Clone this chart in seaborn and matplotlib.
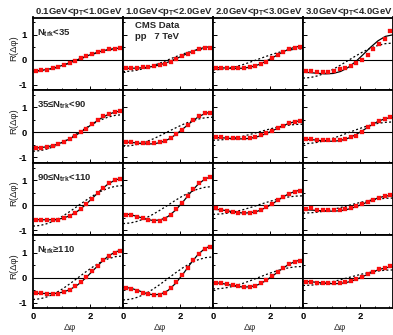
import numpy as np
import pandas as pd
import matplotlib
matplotlib.use("Agg")
import matplotlib.pyplot as plt
import seaborn as sns
from matplotlib.ticker import FixedLocator, MultipleLocator

# ---------------- data ----------------
pt_titles = ["0.1GeV<p$_\\mathrm{T}$<1.0GeV", "1.0GeV<p$_\\mathrm{T}$<2.0GeV",
             "2.0GeV<p$_\\mathrm{T}$<3.0GeV", "3.0GeV<p$_\\mathrm{T}$<4.0GeV"]
ntrk_labels = ["N$_\\mathrm{trk}$<35", "35\u2264N$_\\mathrm{trk}$<90",
               "90\u2264N$_\\mathrm{trk}$<110", "N$_\\mathrm{trk}$\u2265110"]

phi_pts = [0.098, 0.295, 0.491, 0.687, 0.884, 1.080, 1.276, 1.473,
           1.669, 1.865, 2.062, 2.258, 2.454, 2.651, 2.847, 3.043]
phi_curve = [0.0, 0.262, 0.524, 0.785, 1.047, 1.309, 1.571, 1.833,
             2.094, 2.356, 2.618, 2.880, 3.142]

# row 1 : Ntrk < 35
pts_11 = [-0.44, -0.42, -0.39, -0.34, -0.27, -0.2, -0.12, -0.03, 0.06, 0.15, 0.23, 0.3, 0.37, 0.42, 0.45, 0.47]
solid_11 = [-0.44, -0.425, -0.379, -0.307, -0.213, -0.103, 0.015, 0.133, 0.243, 0.337, 0.409, 0.455, 0.47]
dash_11 = [-0.45, -0.435, -0.39, -0.318, -0.225, -0.117, 0.0, 0.117, 0.225, 0.318, 0.39, 0.435, 0.45]
pts_12 = [-0.31, -0.31, -0.31, -0.30, -0.29, -0.26, -0.22, -0.15, -0.07, 0.03, 0.14, 0.24, 0.33, 0.42, 0.48, 0.49]
solid_12 = [-0.34, -0.338, -0.329, -0.306, -0.264, -0.193, -0.093, 0.032, 0.172, 0.309, 0.425, 0.502, 0.53]
dash_12 = [-0.47, -0.454, -0.407, -0.332, -0.235, -0.122, 0.0, 0.122, 0.235, 0.332, 0.407, 0.454, 0.47]
pts_13 = [-0.31, -0.32, -0.33, -0.33, -0.33, -0.32, -0.30, -0.25, -0.17, -0.07, 0.06, 0.18, 0.31, 0.42, 0.48, 0.53]
solid_13 = [-0.31, -0.316, -0.332, -0.344, -0.335, -0.29, -0.2, -0.068, 0.095, 0.264, 0.412, 0.514, 0.55]
dash_13 = [-0.40, -0.386, -0.344, -0.277, -0.19, -0.089, 0.02, 0.129, 0.23, 0.317, 0.384, 0.426, 0.44]
pts_14 = [-0.43, -0.46, -0.49, -0.49, -0.47, -0.43, -0.38, -0.31, -0.24, -0.14, 0.0, 0.2, 0.45, 0.62, 0.83, 1.17]
solid_14 = [-0.5, -0.512, -0.54, -0.56, -0.545, -0.467, -0.31, -0.078, 0.205, 0.5, 0.76, 0.937, 1.0]
dash_14 = [-0.73, -0.706, -0.636, -0.525, -0.38, -0.211, -0.03, 0.151, 0.32, 0.465, 0.576, 0.646, 0.67]

# row 2 : 35 <= Ntrk < 90
pts_21 = [-0.61, -0.61, -0.58, -0.53, -0.46, -0.38, -0.27, -0.13, 0.0, 0.15, 0.33, 0.49, 0.64, 0.74, 0.82, 0.85]
solid_21 = [-0.62, -0.607, -0.566, -0.493, -0.385, -0.24, -0.06, 0.144, 0.355, 0.553, 0.716, 0.823, 0.86]
dash_21 = [-0.75, -0.725, -0.652, -0.536, -0.385, -0.209, -0.02, 0.169, 0.345, 0.496, 0.612, 0.685, 0.71]
pts_22 = [-0.39, -0.40, -0.41, -0.43, -0.43, -0.43, -0.40, -0.33, -0.22, -0.08, 0.1, 0.3, 0.48, 0.64, 0.76, 0.79]
solid_22 = [-0.38, -0.393, -0.425, -0.455, -0.457, -0.404, -0.282, -0.093, 0.144, 0.393, 0.614, 0.766, 0.82]
dash_22 = [-0.55, -0.53, -0.472, -0.38, -0.26, -0.12, 0.03, 0.18, 0.32, 0.44, 0.532, 0.59, 0.61]
pts_23 = [-0.19, -0.2, -0.22, -0.23, -0.23, -0.23, -0.21, -0.18, -0.12, -0.04, 0.06, 0.17, 0.27, 0.36, 0.43, 0.45]
solid_23 = [-0.2, -0.209, -0.23, -0.252, -0.258, -0.232, -0.165, -0.058, 0.078, 0.222, 0.35, 0.439, 0.47]
dash_23 = [-0.31, -0.299, -0.267, -0.216, -0.15, -0.073, 0.01, 0.093, 0.17, 0.236, 0.287, 0.319, 0.33]
pts_24 = [-0.27, -0.28, -0.29, -0.3, -0.3, -0.3, -0.29, -0.26, -0.2, -0.13, 0.03, 0.2, 0.33, 0.45, 0.55, 0.62]
solid_24 = [-0.27, -0.282, -0.312, -0.343, -0.353, -0.321, -0.235, -0.096, 0.083, 0.273, 0.442, 0.558, 0.6]
dash_24 = [-0.45, -0.435, -0.392, -0.323, -0.233, -0.128, -0.015, 0.098, 0.203, 0.293, 0.362, 0.405, 0.42]

# row 3 : 90 <= Ntrk < 110
pts_31 = [-0.58, -0.59, -0.6, -0.61, -0.58, -0.53, -0.45, -0.32, -0.16, 0.03, 0.25, 0.48, 0.7, 0.87, 0.99, 1.05]
solid_31 = [-0.58, -0.584, -0.589, -0.577, -0.526, -0.415, -0.233, 0.013, 0.299, 0.589, 0.84, 1.01, 1.07]
dash_31 = [-0.84, -0.812, -0.731, -0.603, -0.435, -0.24, -0.03, 0.18, 0.375, 0.543, 0.671, 0.752, 0.78]
pts_32 = [-0.38, -0.41, -0.47, -0.52, -0.58, -0.64, -0.65, -0.55, -0.4, -0.17, 0.07, 0.36, 0.63, 0.87, 1.04, 1.12]
solid_32 = [-0.35, -0.382, -0.463, -0.558, -0.617, -0.593, -0.457, -0.207, 0.129, 0.496, 0.827, 1.058, 1.14]
dash_32 = [-0.74, -0.715, -0.641, -0.523, -0.37, -0.192, 0.0, 0.192, 0.37, 0.523, 0.641, 0.715, 0.74]
pts_33 = [-0.13, -0.19, -0.23, -0.27, -0.3, -0.31, -0.32, -0.28, -0.2, -0.09, 0.04, 0.19, 0.33, 0.45, 0.53, 0.57]
solid_33 = [-0.17, -0.187, -0.232, -0.284, -0.318, -0.308, -0.239, -0.109, 0.067, 0.26, 0.435, 0.557, 0.6]
dash_33 = [-0.37, -0.357, -0.32, -0.262, -0.185, -0.096, 0.0, 0.096, 0.185, 0.262, 0.32, 0.357, 0.37]
pts_34 = [-0.14, -0.13, -0.18, -0.19, -0.2, -0.21, -0.2, -0.17, -0.12, -0.05, 0.04, 0.13, 0.22, 0.3, 0.36, 0.39]
solid_34 = [-0.19, -0.198, -0.218, -0.238, -0.245, -0.223, -0.166, -0.073, 0.046, 0.172, 0.285, 0.362, 0.39]
dash_34 = [-0.32, -0.31, -0.28, -0.232, -0.17, -0.098, -0.02, 0.058, 0.13, 0.192, 0.24, 0.27, 0.28]

# row 4 : Ntrk >= 110
pts_41 = [-0.6, -0.62, -0.64, -0.66, -0.64, -0.58, -0.48, -0.34, -0.16, 0.04, 0.26, 0.48, 0.7, 0.88, 1.0, 1.07]
solid_41 = [-0.62, -0.625, -0.634, -0.626, -0.577, -0.464, -0.276, -0.019, 0.283, 0.59, 0.856, 1.036, 1.1]
dash_41 = [-0.87, -0.84, -0.753, -0.615, -0.435, -0.225, 0.0, 0.225, 0.435, 0.615, 0.753, 0.84, 0.87]
pts_42 = [-0.4, -0.45, -0.52, -0.6, -0.66, -0.68, -0.71, -0.6, -0.42, -0.17, 0.09, 0.39, 0.7, 0.96, 1.15, 1.23]
solid_42 = [-0.38, -0.416, -0.509, -0.617, -0.685, -0.661, -0.51, -0.231, 0.145, 0.557, 0.929, 1.188, 1.28]
dash_42 = [-0.89, -0.861, -0.775, -0.638, -0.46, -0.253, -0.03, 0.193, 0.4, 0.578, 0.715, 0.801, 0.83]
pts_43 = [-0.2, -0.22, -0.26, -0.31, -0.35, -0.36, -0.36, -0.32, -0.23, -0.1, 0.05, 0.22, 0.39, 0.54, 0.63, 0.68]
solid_43 = [-0.2, -0.22, -0.273, -0.335, -0.375, -0.363, -0.281, -0.127, 0.081, 0.309, 0.515, 0.659, 0.71]
dash_43 = [-0.45, -0.435, -0.39, -0.318, -0.225, -0.117, 0.0, 0.117, 0.225, 0.318, 0.39, 0.435, 0.45]
pts_44 = [-0.19, -0.19, -0.2, -0.2, -0.2, -0.21, -0.2, -0.18, -0.13, -0.06, 0.03, 0.13, 0.24, 0.33, 0.4, 0.46]
solid_44 = [-0.15, -0.161, -0.19, -0.223, -0.242, -0.23, -0.176, -0.08, 0.048, 0.187, 0.312, 0.399, 0.43]
dash_44 = [-0.31, -0.3, -0.268, -0.219, -0.155, -0.08, 0.0, 0.08, 0.155, 0.219, 0.268, 0.3, 0.31]

panels = {
    (0, 0): (pts_11, solid_11, dash_11), (0, 1): (pts_12, solid_12, dash_12),
    (0, 2): (pts_13, solid_13, dash_13), (0, 3): (pts_14, solid_14, dash_14),
    (1, 0): (pts_21, solid_21, dash_21), (1, 1): (pts_22, solid_22, dash_22),
    (1, 2): (pts_23, solid_23, dash_23), (1, 3): (pts_24, solid_24, dash_24),
    (2, 0): (pts_31, solid_31, dash_31), (2, 1): (pts_32, solid_32, dash_32),
    (2, 2): (pts_33, solid_33, dash_33), (2, 3): (pts_34, solid_34, dash_34),
    (3, 0): (pts_41, solid_41, dash_41), (3, 1): (pts_42, solid_42, dash_42),
    (3, 2): (pts_43, solid_43, dash_43), (3, 3): (pts_44, solid_44, dash_44),
}

# ---------------- style ----------------
sns.set_theme(style="white")
plt.rcParams["font.family"] = ["Liberation Sans", "DejaVu Sans"]
plt.rcParams["mathtext.fontset"] = "custom"
plt.rcParams["mathtext.rm"] = "Liberation Sans:bold"
plt.rcParams["mathtext.it"] = "Liberation Sans:bold"
plt.rcParams["mathtext.bf"] = "Liberation Sans:bold"

W, H = 393, 335
fig = plt.figure(figsize=(W / 100, H / 100), dpi=100)
fig.patch.set_facecolor("white")

left_px, right_px, top_px, bot_px = 33, 393, 17.5, 308
L, R = left_px / W, right_px / W
T, B = 1 - top_px / H, 1 - bot_px / H
w = (R - L) / 4
h = (T - B) / 4
FS = 6.8

for r in range(4):
    for c in range(4):
        ax = fig.add_axes([L + c * w, T - (r + 1) * h, w, h])
        pts, solid, dash = panels[(r, c)]
        dfc = pd.DataFrame({"phi": phi_curve, "solid": solid, "dash": dash})
        dfp = pd.DataFrame({"phi": phi_pts, "R": pts})
        ax.axhline(0, color="black", lw=0.8, zorder=1)
        sns.lineplot(data=dfc, x="phi", y="dash", ax=ax, color="black", lw=0.9,
                     linestyle=(0, (1.6, 1.8)), estimator=None, sort=False, zorder=2)
        sns.lineplot(data=dfc, x="phi", y="solid", ax=ax, color="black", lw=0.9,
                     estimator=None, sort=False, zorder=3)
        sns.scatterplot(data=dfp, x="phi", y="R", ax=ax, color="#ff1010", s=5,
                        marker="s", edgecolor="#dd0000", linewidth=0.2, zorder=4)
        ax.set_xlim(0, 3.1416)
        ax.set_ylim(-1.21, 1.69)
        ax.set_xlabel("")
        ax.set_ylabel("")
        ax.set_facecolor("white")
        for sp in ax.spines.values():
            sp.set_visible(True)
            sp.set_color("black")
            sp.set_linewidth(1.3)
        ax.xaxis.set_major_locator(FixedLocator([0, 2]))
        ax.xaxis.set_minor_locator(MultipleLocator(0.5))
        ax.yaxis.set_major_locator(FixedLocator([-1, 0, 1]))
        ax.yaxis.set_minor_locator(MultipleLocator(0.5))
        ax.tick_params(which="both", direction="in", left=True, bottom=True,
                       top=False, right=False, colors="black", width=0.7)
        ax.tick_params(which="major", length=3.0)
        ax.tick_params(which="minor", length=1.6)
        ax.tick_params(axis="y", pad=4.2)
        ax.tick_params(axis="x", pad=3.2)
        if c == 0:
            ax.set_yticklabels(["-1", "0", "1"], fontsize=FS, fontweight="bold")
        else:
            ax.set_yticklabels([])
        if r == 3:
            ax.set_xticklabels(["0", "2"], fontsize=FS, fontweight="bold")
        else:
            ax.set_xticklabels([])
        if c == 0:
            ax.text(0.045, 1 - 9.5 / 72.6, ntrk_labels[r], transform=ax.transAxes,
                    va="top", ha="left", fontsize=FS, fontweight="bold")
        if r == 0 and c == 1:
            ax.text(0.13, 0.945, "CMS Data", transform=ax.transAxes, va="top",
                    ha="left", fontsize=FS, fontweight="bold")
            ax.text(0.13, 0.795, "pp   7 TeV", transform=ax.transAxes, va="top",
                    ha="left", fontsize=FS, fontweight="bold")
        if r == 0:
            fig.text((left_px + c * 90 + 2) / W, 1 - 14 / H, pt_titles[c],
                     va="baseline", ha="left", fontsize=FS, fontweight="bold")
        if r == 3:
            fig.text(L + c * w + 0.41 * w, 1 - 328 / H, "\u0394\u03c6",
                     va="center", ha="center", fontsize=FS, color="#333333")
    fig.text(13.5 / W, T - (r + 1) * h + 0.58 * h, "R(\u0394\u03c6)", rotation=90,
             va="center", ha="center", fontsize=FS, color="#222222")

fig.savefig("out.png", dpi=100, facecolor="white")
